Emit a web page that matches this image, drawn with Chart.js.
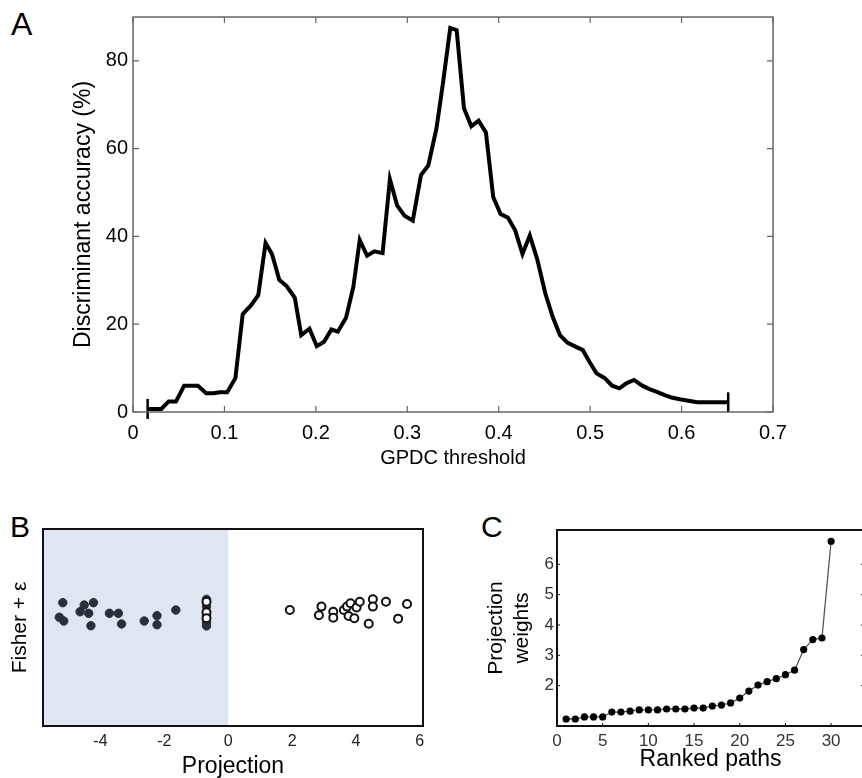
<!DOCTYPE html>
<html>
<head>
<meta charset="utf-8">
<script src="https://cdn.jsdelivr.net/npm/chart.js@4"></script>
<style>
  html, body { margin: 0; padding: 0; background: #fff; overflow: hidden; width: 862px; height: 778px; }
  body { position: relative; font-family: "Liberation Sans", Arial, sans-serif; }
  canvas { position: absolute; }
  .lbl { position: absolute; font-size: 32px; line-height: 1; color: #000; }
</style>
</head>
<body>
<div class="lbl" style="left:11px; top:8px;">A</div>
<div class="lbl" style="left:10px; top:512px; font-size:30px;">B</div>
<div class="lbl" style="left:481px; top:512px; font-size:30px;">C</div>
<canvas id="chartA" width="862" height="500" style="left:0; top:0;"></canvas>
<canvas id="chartB" width="470" height="280" style="left:0; top:500px;"></canvas>
<canvas id="chartC" width="410" height="278" style="left:470px; top:500px;"></canvas>
<script>
// ---- Panel A: discriminant accuracy vs GPDC threshold
const gpdcThreshold = [0.016, 0.031, 0.039, 0.047, 0.056, 0.071, 0.080, 0.088, 0.095, 0.103,
  0.112, 0.120, 0.129, 0.137, 0.145, 0.152, 0.160, 0.168, 0.177, 0.184,
  0.193, 0.201, 0.209, 0.217, 0.224, 0.233, 0.241, 0.248, 0.256, 0.264,
  0.273, 0.281, 0.289, 0.297, 0.306, 0.315, 0.323, 0.332, 0.339, 0.347,
  0.354, 0.362, 0.370, 0.378, 0.386, 0.394, 0.402, 0.410, 0.418, 0.426,
  0.434, 0.442, 0.451, 0.459, 0.467, 0.475, 0.484, 0.492, 0.499, 0.507,
  0.516, 0.524, 0.532, 0.540, 0.548, 0.557, 0.565, 0.573, 0.581, 0.589,
  0.598, 0.606, 0.617, 0.635, 0.651];
const discriminantAccuracy = [0.7, 0.7, 2.4, 2.4, 6.0, 6.0, 4.3, 4.3, 4.5, 4.5,
  7.7, 22.3, 24.3, 26.6, 38.5, 36.0, 30.1, 28.7, 26.0, 17.5,
  19.0, 15.0, 16.0, 18.8, 18.3, 21.5, 28.5, 39.2, 35.6, 36.6,
  36.2, 53.0, 47.0, 44.7, 43.6, 54.0, 56.2, 64.7, 74.9, 87.5,
  87.0, 69.2, 65.1, 66.4, 63.7, 49.0, 45.1, 44.3, 41.4, 36.0,
  40.2, 34.9, 27.0, 21.7, 17.5, 15.8, 14.9, 14.1, 11.5, 8.8,
  7.7, 6.0, 5.4, 6.6, 7.3, 6.0, 5.2, 4.6, 3.9, 3.3,
  2.9, 2.6, 2.2, 2.2, 2.2];
const xTicksA = [0, 0.1, 0.2, 0.3, 0.4, 0.5, 0.6, 0.7];
const yTicksA = [0, 20, 40, 60, 80];

// ---- Panel B: Fisher projection (y is jitter only)
const groupOneProjection = [-5.18, -5.29, -5.15, -4.64, -4.51, -4.37, -4.22, -4.30, -3.72, -3.44,
  -3.34, -2.63, -2.23, -2.23, -1.64, -0.68, -0.68, -0.68, -0.68, -0.68];
const groupOneJitter = [0.626, 0.552, 0.533, 0.580, 0.614, 0.572, 0.626, 0.509, 0.572, 0.572,
  0.518, 0.533, 0.560, 0.514, 0.589, 0.643, 0.606, 0.563, 0.524, 0.508];
const groupTwoProjection = [-0.68, -0.68, -0.68, 1.93, 2.92, 2.84, 3.29, 3.29, 3.62, 3.72,
  3.83, 3.77, 3.95, 4.02, 4.12, 4.53, 4.53, 4.40, 4.94, 5.32, 5.60];
const groupTwoJitter = [0.631, 0.577, 0.547, 0.589, 0.606, 0.562, 0.580, 0.550, 0.589, 0.606,
  0.623, 0.558, 0.547, 0.602, 0.631, 0.643, 0.606, 0.519, 0.631, 0.545, 0.619];
const xTicksB = [-4, -2, 0, 2, 4, 6];

// ---- Panel C: projection weights of ranked paths
const rankedPaths = [1, 2, 3, 4, 5, 6, 7, 8, 9, 10, 11, 12, 13, 14, 15,
  16, 17, 18, 19, 20, 21, 22, 23, 24, 25, 26, 27, 28, 29, 30];
const projectionWeights = [0.90, 0.90, 0.97, 0.97, 0.97, 1.13, 1.13, 1.16, 1.20, 1.20,
  1.20, 1.23, 1.23, 1.23, 1.26, 1.26, 1.33, 1.36, 1.43, 1.59,
  1.82, 2.02, 2.13, 2.23, 2.36, 2.51, 3.19, 3.52, 3.57, 6.76];
const xTicksC = [0, 5, 10, 15, 20, 25, 30];
const yTicksC = [2, 3, 4, 5, 6];

const FONT = '"Liberation Sans", Arial, sans-serif';

// box round the plot area with ticks pointing inwards (matlab style)
const framePlugin = {
  id: 'frame',
  afterDatasetsDraw(chart, args, opts) {
    const { ctx, chartArea: a } = chart;
    const xs = chart.scales.x, ys = chart.scales.y;
    ctx.save();
    ctx.strokeStyle = opts.color;
    ctx.lineWidth = opts.width;
    ctx.strokeRect(a.left, a.top, a.right - a.left, a.bottom - a.top);
    const len = opts.tick || 0;
    if (len) {
      ctx.lineWidth = opts.tickWidth || 1;
      ctx.beginPath();
      if (opts.xTicks) xs.ticks.forEach(t => {
        const px = xs.getPixelForValue(t.value);
        ctx.moveTo(px, a.bottom); ctx.lineTo(px, a.bottom - len);
        if (opts.top) { ctx.moveTo(px, a.top); ctx.lineTo(px, a.top + len); }
      });
      if (opts.yTicks) ys.ticks.forEach(t => {
        const py = ys.getPixelForValue(t.value);
        ctx.moveTo(a.left, py); ctx.lineTo(a.left + len, py);
        ctx.moveTo(a.right, py); ctx.lineTo(a.right - len, py);
      });
      ctx.stroke();
    }
    ctx.restore();
  }
};

// light blue band for negative projections
const shadePlugin = {
  id: 'shade',
  beforeDatasetsDraw(chart, args, opts) {
    if (!opts.color) return;
    const { ctx, chartArea: a } = chart;
    const x0 = chart.scales.x.getPixelForValue(opts.to);
    ctx.save();
    ctx.fillStyle = opts.color;
    ctx.fillRect(a.left, a.top, x0 - a.left, a.bottom - a.top);
    ctx.restore();
  }
};

function setTicks(list) {
  return scale => { scale.ticks = list.map(v => ({ value: v })); };
}

// Panel A
new Chart(document.getElementById('chartA'), {
  type: 'scatter',
  data: {
    datasets: [{
      data: gpdcThreshold.map((x, i) => ({ x: x, y: discriminantAccuracy[i] })),
      showLine: true,
      borderColor: '#000',
      borderWidth: 4,
      pointRadius: 0,
      tension: 0,
      clip: false
    }, {
      // end caps of the curve
      data: [0, gpdcThreshold.length - 1].map(i => ({ x: gpdcThreshold[i], y: discriminantAccuracy[i] })),
      showLine: false,
      pointStyle: 'line',
      rotation: 90,
      pointRadius: 10,
      pointBorderWidth: 2.5,
      borderColor: '#000',
      clip: false
    }]
  },
  options: {
    responsive: false,
    animation: false,
    events: [],
    layout: { padding: { left: 70, top: 15, right: 89, bottom: 30 } },
    plugins: {
      legend: { display: false },
      tooltip: { enabled: false },
      frame: { color: '#666', width: 1.5, tick: 6, tickWidth: 1.2, xTicks: true, yTicks: true, top: true }
    },
    scales: {
      x: {
        type: 'linear', min: 0, max: 0.7,
        afterBuildTicks: setTicks(xTicksA),
        afterFit: s => { s.height = 58; },
        grid: { display: false, drawTicks: false },
        border: { display: false },
        ticks: { color: '#000', padding: 9, font: { family: FONT, size: 20 } },
        title: { display: true, text: 'GPDC threshold', color: '#000', padding: 0, font: { family: FONT, size: 20 } }
      },
      y: {
        min: 0, max: 90,
        afterBuildTicks: setTicks(yTicksA),
        afterFit: s => { s.width = 63; },
        grid: { display: false, drawTicks: false },
        border: { display: false },
        ticks: { color: '#000', padding: 5, font: { family: FONT, size: 20 } },
        title: { display: true, text: 'Discriminant accuracy (%)', color: '#000', padding: 0, font: { family: FONT, size: 23 } }
      }
    }
  },
  plugins: [framePlugin]
});

// Panel B
new Chart(document.getElementById('chartB'), {
  type: 'scatter',
  data: {
    datasets: [{
      data: groupTwoProjection.map((x, i) => ({ x: x, y: groupTwoJitter[i] })),
      pointRadius: 4,
      pointBorderWidth: 2,
      backgroundColor: '#fff',
      borderColor: '#111'
    }, {
      data: groupOneProjection.map((x, i) => ({ x: x, y: groupOneJitter[i] })),
      pointRadius: 4.2,
      pointBorderWidth: 1,
      backgroundColor: '#2a2f3c',
      borderColor: '#2a2f3c'
    }]
  },
  options: {
    responsive: false,
    animation: false,
    events: [],
    layout: { padding: { left: 8, top: 29, right: 47, bottom: 0 } },
    plugins: {
      legend: { display: false },
      tooltip: { enabled: false },
      shade: { color: '#dfe6f1', to: 0 },
      frame: { color: '#111', width: 2 }
    },
    scales: {
      x: {
        type: 'linear', min: -5.8, max: 6.1,
        afterBuildTicks: setTicks(xTicksB),
        afterFit: s => { s.height = 54; },
        grid: { display: false, drawTicks: false },
        border: { display: false },
        ticks: { color: '#222', padding: 6, font: { family: FONT, size: 16 } },
        title: { display: true, text: 'Projection', color: '#000', padding: 0, font: { family: FONT, size: 23 } }
      },
      y: {
        min: 0, max: 1,
        afterFit: s => { s.width = 35; },
        grid: { display: false, drawTicks: false },
        border: { display: false },
        ticks: { display: false },
        title: { display: true, text: 'Fisher + ε', color: '#000', padding: 0, font: { family: FONT, size: 21 } }
      }
    }
  },
  plugins: [shadePlugin, framePlugin]
});

// Panel C
new Chart(document.getElementById('chartC'), {
  type: 'line',
  data: {
    datasets: [{
      data: rankedPaths.map((x, i) => ({ x: x, y: projectionWeights[i] })),
      borderColor: '#555',
      borderWidth: 1.3,
      pointRadius: 3.6,
      pointBackgroundColor: '#000',
      pointBorderColor: '#000',
      pointBorderWidth: 0,
      tension: 0
    }]
  },
  options: {
    responsive: false,
    animation: false,
    events: [],
    layout: { padding: { left: 13, top: 30, right: 16, bottom: 5 } },
    plugins: {
      legend: { display: false },
      tooltip: { enabled: false },
      frame: { color: '#111', width: 2, tick: 3, tickWidth: 1, xTicks: true, yTicks: true }
    },
    scales: {
      x: {
        type: 'linear', min: 0, max: 33.6,
        afterBuildTicks: setTicks(xTicksC),
        afterFit: s => { s.height = 47; },
        grid: { display: false, drawTicks: false },
        border: { display: false },
        ticks: { color: '#333', padding: 5, font: { family: FONT, size: 17 } },
        title: { display: true, text: 'Ranked paths', color: '#000', padding: 0, font: { family: FONT, size: 23 } }
      },
      y: {
        min: 0.67, max: 7.13,
        afterBuildTicks: setTicks(yTicksC),
        afterFit: s => { s.width = 74; },
        grid: { display: false, drawTicks: false },
        border: { display: false },
        ticks: { color: '#333', padding: 3, font: { family: FONT, size: 17 } },
        title: { display: true, text: ['Projection', 'weights'], color: '#000', padding: 0, font: { family: FONT, size: 21, lineHeight: 1.25 } }
      }
    }
  },
  plugins: [framePlugin]
});
</script>
</body>
</html>
